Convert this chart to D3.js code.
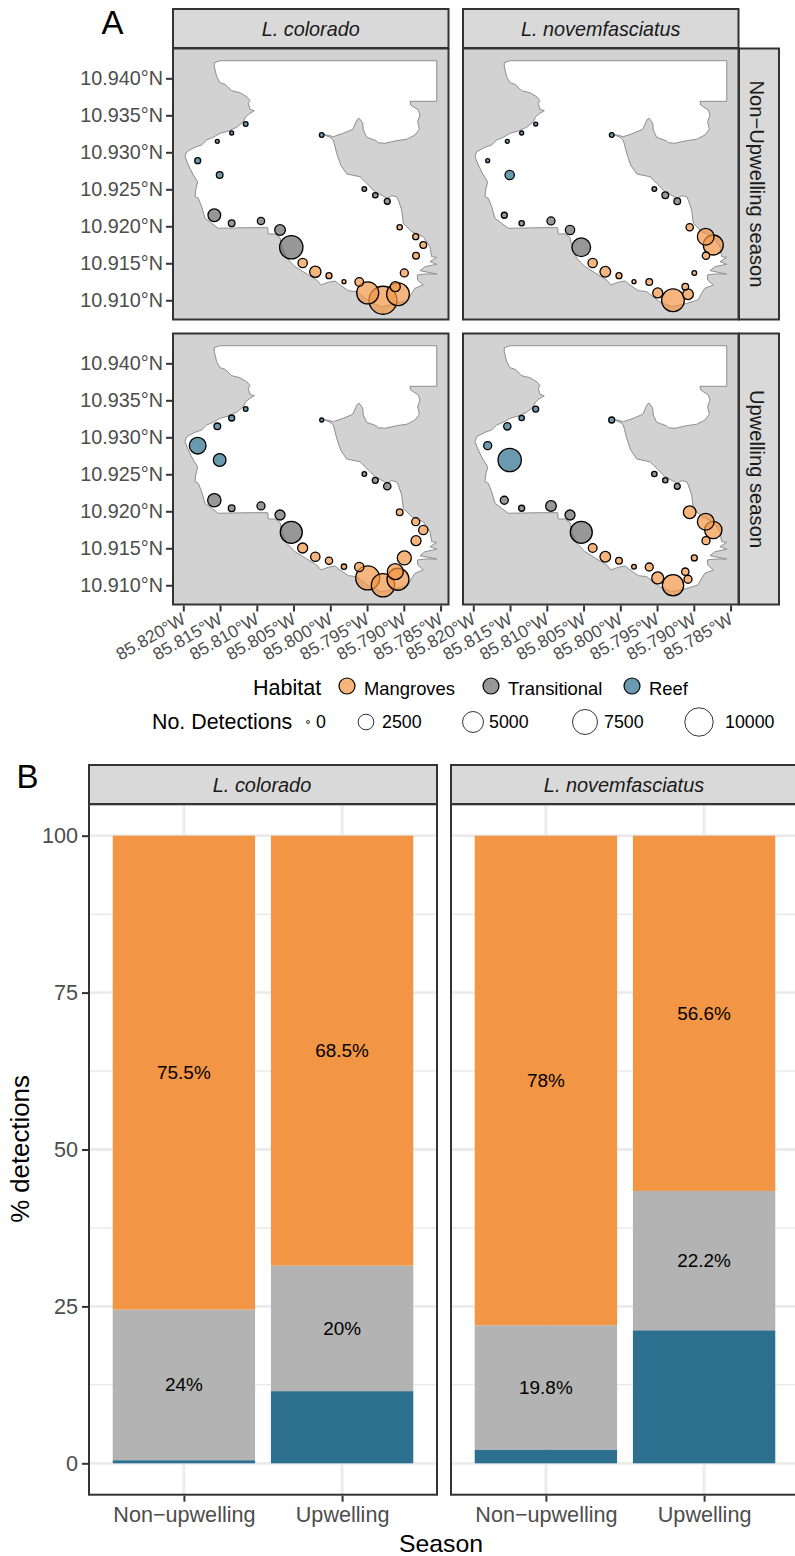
<!DOCTYPE html>
<html><head><meta charset="utf-8">
<script src="https://cdn.jsdelivr.net/npm/d3@7"></script>
<style>html,body{margin:0;padding:0;background:#fff;overflow:hidden}svg{display:block}text{font-family:"Liberation Sans",Arial,sans-serif}</style>
</head><body><svg id="c" width="795" height="1556"></svg>
<script>
const siteHabitat=["Reef","Reef","Reef","Reef","Reef","Reef","Transitional","Transitional","Transitional","Transitional","Transitional","Transitional","Transitional","Transitional","Mangroves","Mangroves","Mangroves","Mangroves","Mangroves","Mangroves","Mangroves","Mangroves","Mangroves","Mangroves","Mangroves","Mangroves","Mangroves","Mangroves"];
const siteLon=[85.81151,85.81342,85.81537,85.81804,85.81505,85.80117,85.79537,85.79388,85.79225,85.81578,85.81342,85.80943,85.80684,85.80531,85.79056,85.78838,85.78735,85.78834,85.78993,85.80376,85.80204,85.80018,85.79814,85.79606,85.79491,85.79283,85.79116,85.79079];
const siteLat=[10.93382,10.93261,10.93148,10.92887,10.92693,10.93234,10.92504,10.92419,10.92338,10.92149,10.92041,10.92072,10.91950,10.91716,10.91987,10.91859,10.91747,10.91603,10.91369,10.91504,10.91386,10.91332,10.91251,10.91247,10.91099,10.91000,10.91184,10.91081];
const detColoradoNon=[43,15,15,139,208,43,43,85,139,1449,208,291,910,6410,85,139,208,208,388,621,1076,139,15,497,5595,9690,760,5990];
const detNovemNon=[15,15,15,15,621,43,43,208,208,139,85,388,621,3800,291,2893,4480,291,43,621,910,139,15,208,760,5990,208,910];
const detColoradoUp=[43,139,208,2893,1449,15,43,139,291,1657,208,388,760,5595,208,388,621,760,1875,760,621,291,85,621,6838,6410,2620,5595];
const detNovemUp=[139,85,291,388,6410,139,85,85,139,388,139,910,760,5595,1449,2893,3187,388,139,497,910,208,43,388,1255,5213,291,388];
const coastLon=[85.81578,85.81501,85.78552,85.78552,85.78916,85.78906,85.78803,85.78780,85.78811,85.78789,85.78848,85.78961,85.79097,85.79256,85.79347,85.79378,85.79505,85.79551,85.79559,85.79606,85.79633,85.79695,85.79823,85.79959,85.80027,85.80086,85.80004,85.79959,85.79913,85.79859,85.79777,85.79596,85.79505,85.79392,85.79225,85.79165,85.79097,85.79075,85.79029,85.79007,85.78893,85.78735,85.78644,85.78621,85.78552,85.78644,85.78552,85.78712,85.78780,85.78552,85.78712,85.78816,85.78811,85.78735,85.78848,85.78906,85.78943,85.79120,85.79301,85.79469,85.79641,85.79755,85.79868,85.79936,85.80027,85.80127,85.80185,85.80299,85.80480,85.80593,85.80653,85.80684,85.80752,85.80844,85.80852,85.81069,85.81524,85.81614,85.81705,85.81750,85.81796,85.81841,85.81831,85.81804,85.81864,85.81932,85.81977,85.81954,85.81841,85.81750,85.81682,85.81592,85.81501,85.81388,85.81273,85.81184,85.81151,85.81093,85.81034,85.81093,85.81116,85.81093,85.81137,85.81229,85.81342,85.81433,85.81501,85.81546,85.81578];
const coastLat=[10.94211,10.94238,10.94238,10.93689,10.93689,10.93639,10.93572,10.93504,10.93414,10.93311,10.93234,10.93176,10.93157,10.93122,10.93130,10.93157,10.93203,10.93301,10.93392,10.93460,10.93446,10.93311,10.93257,10.93211,10.93230,10.93238,10.93203,10.93166,10.92987,10.92828,10.92707,10.92670,10.92581,10.92468,10.92378,10.92414,10.92400,10.92355,10.92220,10.92041,10.91927,10.91859,10.91724,10.91589,10.91581,10.91522,10.91487,10.91454,10.91400,10.91355,10.91355,10.91342,10.91274,10.91207,10.91162,10.91072,10.91004,10.90950,10.90914,10.90981,10.91116,10.91130,10.91207,10.91261,10.91243,10.91207,10.91274,10.91342,10.91454,10.91568,10.91703,10.91846,10.91896,10.91896,10.91981,10.91981,10.91973,10.92041,10.92108,10.92265,10.92378,10.92400,10.92491,10.92603,10.92693,10.92828,10.92941,10.93008,10.93068,10.93099,10.93166,10.93203,10.93257,10.93288,10.93338,10.93414,10.93481,10.93527,10.93562,10.93581,10.93662,10.93700,10.93751,10.93805,10.93833,10.93919,10.93941,10.94022,10.94157];
const lonTicks=[85.820,85.815,85.810,85.805,85.800,85.795,85.790,85.785];
const latTicks=[10.940,10.935,10.930,10.925,10.920,10.915,10.910];
const sizeBreaks=[0,2500,5000,7500,10000];
const habitats=["Mangroves","Transitional","Reef"];
const seasons=["Non\u2212upwelling","Upwelling"];
const pctReef=[[0.5,11.5],[2.2,21.2]];
const pctTrans=[[24,20],[19.8,22.2]];
const labelsTrans=["24%","20%","19.8%","22.2%"];
const labelsMang=["75.5%","68.5%","78%","56.6%"];
const pctTicks=[0,25,50,75,100];
const pctMinor=[12.5,37.5,62.5,87.5];
const species=["L. colorado","L. novemfasciatus"];

const svg=d3.select("#c");
const DARK="#333333",TICK="#4D4D4D";
const barCol={Mangroves:"#F29544",Transitional:"#B2B3B2",Reef:"#2C6F8E"};
const dotCol={Mangroves:"#F29544",Transitional:"#6B6B6B",Reef:"#2C6F8E"};
const rScale=d3.scaleSqrt().domain([0,10000]).range([1.5,14.2]);
const T=(g,x,y,s,o={})=>g.append("text").attr("x",x).attr("y",y).text(s)
  .attr("font-size",o.size||17).attr("fill",o.fill||"#000").attr("text-anchor",o.anchor||"middle")
  .attr("font-style",o.italic?"italic":null).attr("dominant-baseline","central")
  .attr("transform",o.rot!=null?`rotate(${o.rot},${x},${y})`:null);

// Panel A
const colX=[[173,448.5],[463,738.5]];
const rowY=[[48.5,319.5],[333.5,604.5]];
const dets=[[detColoradoNon,detNovemNon],[detColoradoUp,detNovemUp]];
const ring=coastLon.map((d,i)=>[d,coastLat[i]]);
const sites=siteLon.map((d,i)=>({lon:d,lat:siteLat[i],hab:siteHabitat[i],i}));
rowY.forEach((ry,r)=>colX.forEach((cx,c)=>{
  const x=d3.scaleLinear().domain([85.8214,85.78392]).range(cx);
  const y=d3.scaleLinear().domain([10.9074,10.94403]).range([ry[1],ry[0]]);
  const g=svg.append("g");
  g.append("rect").attr("x",cx[0]).attr("y",ry[0]).attr("width",cx[1]-cx[0]).attr("height",ry[1]-ry[0]).attr("fill","#D2D2D2");
  const line=d3.line().x(d=>x(d[0])).y(d=>y(d[1]));
  g.append("path").attr("d",line(ring)+"Z").attr("fill","#fff").attr("stroke","#8E8E8E").attr("stroke-width",1);
  const v=dets[r][c];
  g.selectAll("circle").data(sites.slice().sort((a,b)=>v[b.i]-v[a.i])).join("circle")
    .attr("cx",d=>x(d.lon)).attr("cy",d=>y(d.lat)).attr("r",d=>rScale(v[d.i]))
    .attr("fill",d=>dotCol[d.hab]).attr("fill-opacity",0.7).attr("stroke","#000").attr("stroke-width",1.3);
  g.append("rect").attr("x",cx[0]).attr("y",ry[0]).attr("width",cx[1]-cx[0]).attr("height",ry[1]-ry[0]).attr("fill","none").attr("stroke",DARK).attr("stroke-width",2);
  if(c===0){
    const ax=g.append("g").attr("transform",`translate(${cx[0]-1},0)`).call(d3.axisLeft(y).tickValues(latTicks).tickSize(6).tickPadding(3).tickFormat(d=>d.toFixed(3)+"°N"));
    ax.select(".domain").remove();
    ax.selectAll("line").attr("stroke",DARK).attr("stroke-width",2);
    ax.selectAll("text").attr("fill",TICK).attr("font-size",19.8).attr("font-family",'"Liberation Sans"');
  }
  if(r===1){
    const ax=g.append("g").attr("transform",`translate(0,${ry[1]+1})`).call(d3.axisBottom(x).tickValues(lonTicks).tickSize(6).tickFormat(d=>d.toFixed(3)+"°W"));
    ax.select(".domain").remove();
    ax.selectAll("line").attr("stroke",DARK).attr("stroke-width",2);
    ax.selectAll("text").attr("fill",TICK).attr("font-size",17.4).attr("font-family",'"Liberation Sans"')
      .attr("text-anchor","end").attr("dy",0).attr("y",0).attr("transform","translate(3,17) rotate(-30)");
  }
}));
// Panel A strips
colX.forEach((cx,c)=>{
  svg.append("rect").attr("x",cx[0]).attr("y",9).attr("width",cx[1]-cx[0]).attr("height",39).attr("fill","#D9D9D9").attr("stroke",DARK).attr("stroke-width",2);
  T(svg,(cx[0]+cx[1])/2,29,species[c],{size:19.8,italic:true,fill:"#1A1A1A"});
});
["Non\u2212Upwelling season","Upwelling season"].forEach((s,r)=>{
  const ry=rowY[r];
  svg.append("rect").attr("x",739).attr("y",ry[0]).attr("width",40).attr("height",ry[1]-ry[0]).attr("fill","#D9D9D9").attr("stroke",DARK).attr("stroke-width",2);
  T(svg,757,(ry[0]+ry[1])/2,s,{size:20.2,rot:90,fill:"#1A1A1A"});
});
T(svg,112.5,22,"A",{size:33});
T(svg,27.5,776,"B",{size:33});

// Legends
T(svg,253,688,"Habitat",{size:21.5,anchor:"start"});
const keyX=[347,491,632];
const keyL=[364,508,649];
habitats.forEach((h,i)=>{
  svg.append("circle").attr("cx",keyX[i]).attr("cy",686).attr("r",8).attr("fill",dotCol[h]).attr("fill-opacity",0.7).attr("stroke","#000").attr("stroke-width",1.2);
  T(svg,keyL[i],688,h,{size:18.4,anchor:"start"});
});
T(svg,152,722,"No. Detections",{size:21.4,anchor:"start"});
const sizeX=[308,366,473,585,699];
const sizeL=[316,382,489,604,725];
sizeBreaks.forEach((b,i)=>{
  svg.append("circle").attr("cx",sizeX[i]).attr("cy",722).attr("r",rScale(b)).attr("fill","#fff").attr("stroke","#000").attr("stroke-width",0.8);
  T(svg,sizeL[i],722,String(b),{size:17.8,anchor:"start"});
});

// Panel B
const bx=[[89,437],[451,799]];
const by=d3.scaleLinear().domain([-5,105]).range([1494.7,804.3]);
bx.forEach((cx,c)=>{
  const g=svg.append("g");
  const x=d3.scalePoint().domain(seasons).range([cx[0]+(cx[1]-cx[0])*0.6/2.2,cx[1]-(cx[1]-cx[0])*0.6/2.2]);
  const unit=(cx[1]-cx[0])/2.2,bw=unit*0.9;
  pctMinor.forEach(t=>g.append("line").attr("x1",cx[0]).attr("x2",cx[1]).attr("y1",by(t)).attr("y2",by(t)).attr("stroke","#EBEBEB").attr("stroke-width",1.5));
  pctTicks.forEach(t=>g.append("line").attr("x1",cx[0]).attr("x2",cx[1]).attr("y1",by(t)).attr("y2",by(t)).attr("stroke","#EBEBEB").attr("stroke-width",2.8));
  seasons.forEach(s=>g.append("line").attr("x1",x(s)).attr("x2",x(s)).attr("y1",by.range()[0]).attr("y2",by.range()[1]).attr("stroke","#EBEBEB").attr("stroke-width",2.8));
  seasons.forEach((s,k)=>{
    const segs=[["Reef",pctReef[c][k]],["Transitional",pctTrans[c][k]],["Mangroves",100-pctReef[c][k]-pctTrans[c][k]]];
    let b=0;
    segs.forEach(([h,p])=>{
      g.append("rect").attr("x",x(s)-bw/2).attr("width",bw).attr("y",by(b+p)).attr("height",by(b)-by(b+p)).attr("fill",barCol[h]);
      b+=p;
    });
    const r0=pctReef[c][k],t0=pctTrans[c][k];
    T(g,x(s),by(r0+t0/2),labelsTrans[c*2+k],{size:18.9});
    T(g,x(s),by(r0+t0+(100-r0-t0)/2),labelsMang[c*2+k],{size:18.9});
  });
  g.append("rect").attr("x",cx[0]).attr("y",804.3).attr("width",cx[1]-cx[0]).attr("height",690.4).attr("fill","none").attr("stroke",DARK).attr("stroke-width",2);
  g.append("rect").attr("x",cx[0]).attr("y",765).attr("width",cx[1]-cx[0]).attr("height",39).attr("fill","#D9D9D9").attr("stroke",DARK).attr("stroke-width",2);
  T(g,(cx[0]+cx[1])/2-1,785,species[c],{size:19.9,italic:true,fill:"#1A1A1A"});
  const ax=g.append("g").attr("transform",`translate(0,1495.7)`).call(d3.axisBottom(x).tickSize(6).tickPadding(5));
  ax.select(".domain").remove();
  ax.selectAll("line").attr("stroke",DARK).attr("stroke-width",2);
  ax.selectAll("text").attr("fill",TICK).attr("font-size",21.6).attr("font-family",'"Liberation Sans"');
  if(c===0){
    const ay=g.append("g").attr("transform",`translate(${cx[0]-1},0)`).call(d3.axisLeft(by).tickValues(pctTicks).tickSize(6).tickPadding(4));
    ay.select(".domain").remove();
    ay.selectAll("line").attr("stroke",DARK).attr("stroke-width",2);
    ay.selectAll("text").attr("fill",TICK).attr("font-size",21.6).attr("font-family",'"Liberation Sans"');
  }
});
T(svg,441,1543,"Season",{size:24.8});
T(svg,20,1149,"% detections",{size:25.8,rot:-90});
</script></body></html>
